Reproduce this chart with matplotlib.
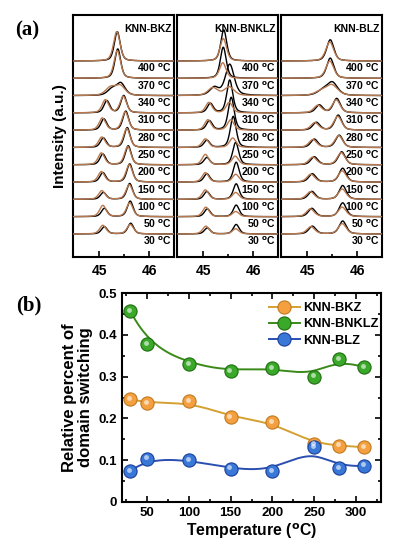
import numpy as np
import matplotlib
matplotlib.use('Agg')
import matplotlib.pyplot as plt
import matplotlib.transforms as mtransforms

plt.rcParams['font.family'] = 'Liberation Sans'
plt.rcParams['font.weight'] = 'bold'
plt.rcParams['mathtext.default'] = 'bf'

# ---- (a) XRD peaks: peak positions and heights ----
temps = [30, 50, 100, 150, 200, 250, 280, 310, 340, 370, 400]
panels = ['KNN-BKZ', 'KNN-BNKLZ', 'KNN-BLZ']

bkz_pos1 = [45.10, 45.10, 45.08, 45.07, 45.07, 45.08, 45.09, 45.15, 45.25, 45.37, 45.36]
bkz_pos2 = [45.63, 45.62, 45.61, 45.61, 45.58, 45.56, 45.53, 45.49, 45.43, 45.37, 45.36]
bkz_h1 = [0.42, 0.48, 0.40, 0.55, 0.62, 0.55, 0.65, 0.70, 0.35, 0.0, 0.0]
bkz_h2 = [0.62, 0.90, 0.92, 1.05, 1.10, 1.15, 1.10, 1.00, 0.70, 1.70, 1.70]
bkz_h1b = [0.50, 0.65, 0.50, 0.60, 0.68, 0.60, 0.70, 0.75, 0.45, 0.0, 0.0]
bkz_h2b = [0.55, 0.80, 0.85, 1.00, 1.05, 1.10, 1.05, 0.95, 0.55, 1.60, 1.70]

bnklz_pos1 = [45.08, 45.08, 45.07, 45.07, 45.07, 45.07, 45.12, 45.14, 45.22, 45.40, 45.41]
bnklz_pos2 = [45.66, 45.66, 45.66, 45.66, 45.65, 45.60, 45.56, 45.53, 45.53, 45.40, 45.41]
bnklz_h1 = [0.35, 0.45, 0.45, 0.48, 0.42, 0.42, 0.54, 0.54, 0.45, 0.0, 0.0]
bnklz_h2 = [0.55, 0.67, 0.90, 1.15, 1.30, 1.80, 1.90, 1.90, 1.80, 1.80, 1.80]
bnklz_h1b = [0.45, 0.55, 0.55, 0.55, 0.60, 0.50, 0.60, 0.60, 0.45, 0.0, 0.0]
bnklz_h2b = [0.30, 0.30, 0.40, 0.45, 0.50, 0.55, 0.60, 0.60, 0.50, 0.90, 1.30]

blz_pos1 = [45.10, 45.09, 45.09, 45.10, 45.14, 45.14, 45.18, 45.24, 45.30, 45.46, 45.46]
blz_pos2 = [45.71, 45.71, 45.71, 45.71, 45.69, 45.64, 45.62, 45.59, 45.50, 45.46, 45.46]
blz_h1 = [0.45, 0.48, 0.46, 0.48, 0.46, 0.48, 0.45, 0.45, 0.25, 0.0, 0.0]
blz_h2 = [0.75, 0.80, 0.80, 0.80, 0.75, 0.71, 0.87, 0.83, 0.75, 1.17, 1.23]
blz_h1b = [0.42, 0.45, 0.44, 0.45, 0.44, 0.45, 0.43, 0.43, 0.22, 0.0, 0.0]
blz_h2b = [0.60, 0.55, 0.60, 0.65, 0.70, 0.68, 0.80, 0.75, 0.60, 1.00, 1.10]

peak_width = [0.14, 0.14, 0.17]
width_scale = [1, 1, 1, 1, 1, 1, 1, 1, 1.5, 1, 1]

# ---- (b) relative percent of domain switching ----
temperature = [30, 50, 100, 150, 200, 250, 280, 310]
bkz = [0.246, 0.236, 0.242, 0.203, 0.191, 0.138, 0.135, 0.131]
bnklz = [0.457, 0.378, 0.330, 0.314, 0.321, 0.300, 0.342, 0.322]
blz = [0.074, 0.104, 0.101, 0.080, 0.074, 0.131, 0.082, 0.087]


def peak(x, c, h, w):
    g = np.exp(-4 * np.log(2) * ((x - c) / w) ** 2)
    l = 1 / (1 + 4 * ((x - c) / w) ** 2)
    return h * (0.55 * g + 0.45 * l)


def bspline(xs, ys, n=300):
    # clamped uniform cubic B-spline, data used as control points
    pts = np.column_stack([xs, ys]).astype(float)
    k = 3
    m = len(pts)
    knots = np.concatenate([[0] * (k + 1), np.arange(1, m - k), [m - k] * (k + 1)]).astype(float)
    t = np.linspace(0, m - k, n)
    t[-1] -= 1e-9

    def basis(i, p):
        if p == 0:
            return ((knots[i] <= t) & (t < knots[i + 1])).astype(float)
        out = np.zeros_like(t)
        d1 = knots[i + p] - knots[i]
        d2 = knots[i + p + 1] - knots[i + 1]
        if d1 > 0:
            out += (t - knots[i]) / d1 * basis(i, p - 1)
        if d2 > 0:
            out += (knots[i + p + 1] - t) / d2 * basis(i + 1, p - 1)
        return out

    curve = sum(basis(i, k)[:, None] * pts[i] for i in range(m))
    return curve[:, 0], curve[:, 1]


fig = plt.figure(figsize=(3.97, 5.5), dpi=100)

data_a = [
    (bkz_pos1, bkz_pos2, bkz_h1, bkz_h2, bkz_h1b, bkz_h2b),
    (bnklz_pos1, bnklz_pos2, bnklz_h1, bnklz_h2, bnklz_h1b, bnklz_h2b),
    (blz_pos1, blz_pos2, blz_h1, blz_h2, blz_h1b, blz_h2b),
]
lefts = [73, 177, 281]
x = np.linspace(44.4, 46.6, 600)
for j, (name, (p1, p2, h1, h2, h1b, h2b)) in enumerate(zip(panels, data_a)):
    ax = fig.add_axes([lefts[j] / 397, 1 - 257 / 550, 101 / 397, 242 / 550])
    for i, t in enumerate(temps):
        w = peak_width[j] * width_scale[i]
        yb = peak(x, p1[i], h1[i], w) + peak(x, p2[i], h2[i], w)
        yr = peak(x, p1[i] - 0.03, h1b[i], w * 1.1) + peak(x, p2[i] - 0.01, h2b[i], w * 1.1)
        ax.plot(x, yb + i, color='black', lw=1.0, zorder=3)
        ax.plot(x, yr + i, color='#b8784e', lw=1.0, zorder=4)
        ax.text(46.45, i - 0.42, f'{t} $^{{\\rm o}}$C', ha='right', va='center',
                fontsize=7.5, fontweight='bold', zorder=5)
    ax.text(46.45, 11.85, name, ha='right', va='center', fontsize=7.5, fontweight='bold')
    ax.set_xlim(44.47, 46.5)
    ax.set_ylim(-1.33, 12.66)
    ax.set_yticks([])
    ax.set_xticks([45, 46])
    ax.set_xticks([45.5], minor=True)
    ax.tick_params(axis='x', which='both', direction='in', width=1.2, labelsize=10, pad=5)
    ax.tick_params(axis='x', which='major', length=4)
    ax.tick_params(axis='x', which='minor', length=2.5)
    for s in ax.spines.values():
        s.set_linewidth(1.5)
    if j == 0:
        ax.set_ylabel('Intensity (a.u.)', fontsize=11, fontweight='bold', labelpad=4)

fig.text(27 / 397, 1 - 30 / 550, '(a)', fontsize=15, fontweight='bold',
         family='Liberation Serif', ha='center', va='center')
fig.text(29 / 397, 1 - 305 / 550, '(b)', fontsize=15, fontweight='bold',
         family='Liberation Serif', ha='center', va='center')

# ---- panel (b) ----
ax = fig.add_axes([122 / 397, 1 - 502 / 550, 259 / 397, 209 / 550])
series = [
    ('KNN-BKZ', bkz, '#f5a040', '#c07a20', '#d4a030'),
    ('KNN-BNKLZ', bnklz, '#3aa828', '#1f6e12', '#3a8a1a'),
    ('KNN-BLZ', blz, '#3a78d8', '#1b3f9a', '#2a4fb0'),
]
hl = mtransforms.offset_copy(ax.transData, fig=fig, x=-1.2, y=1.2, units='dots')
for name, vals, face, edge, line in series:
    sx, sy = bspline(temperature, vals)
    ax.plot(sx, sy, color=line, lw=1.4, zorder=2)
    ax.plot(temperature, vals, 'o', ms=9.5, mfc=face, mec=edge, mew=0.8, zorder=3)
    ax.plot(temperature, vals, 'o', ms=3.5, mfc='white', mec='none', alpha=0.6,
            transform=hl, zorder=4)
    ax.plot([], [], '-o', color=line, ms=9.5, mfc=face, mec=edge, mew=0.8, lw=1.4, label=name)

ax.set_xlim(20, 330)
ax.set_ylim(0, 0.5)
ax.set_xticks([50, 100, 150, 200, 250, 300])
ax.set_xticks(np.arange(25, 330, 25), minor=True)
ax.set_yticks([0, 0.1, 0.2, 0.3, 0.4, 0.5])
ax.set_yticklabels(['0', '0.1', '0.2', '0.3', '0.4', '0.5'])
ax.set_yticks(np.arange(0.05, 0.5, 0.1), minor=True)
ax.tick_params(which='both', direction='in', top=True, right=True, width=1.2, labelsize=9.5)
ax.tick_params(which='major', length=4)
ax.tick_params(which='minor', length=2.5)
for s in ax.spines.values():
    s.set_linewidth(1.5)
ax.set_xlabel('Temperature ($^{\\rm o}$C)', fontsize=11.3, fontweight='bold', labelpad=2)
ax.set_ylabel('Relative percent of\ndomain switching', fontsize=12, fontweight='bold',
              linespacing=1.05, labelpad=4)
ax.legend(loc='upper right', bbox_to_anchor=(1.0, 0.965), frameon=False, fontsize=9.3,
          handlelength=2.4, labelspacing=0.32, borderaxespad=0.0, borderpad=0.15,
          handletextpad=0.3)

fig.savefig('out.png', dpi=100)
